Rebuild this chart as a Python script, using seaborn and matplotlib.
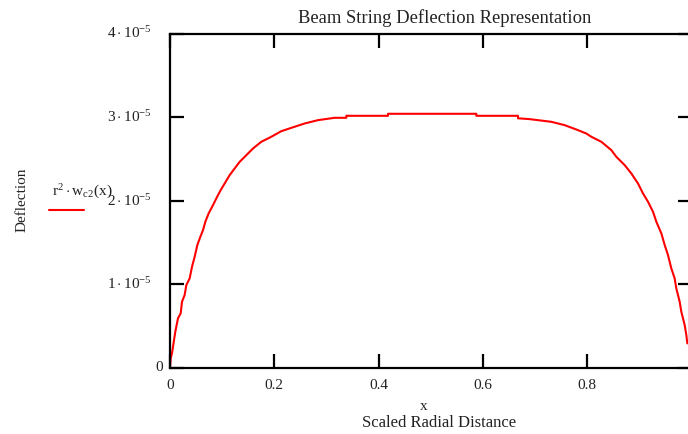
import matplotlib
matplotlib.use("Agg")
import matplotlib.pyplot as plt
from matplotlib.lines import Line2D
import seaborn as sns
import pandas as pd

# Scaled radial distance and the computed deflection r^2 * w_c2(x), in units of 1e-5
x_vals = [0.0000, 0.0013, 0.0038, 0.0077, 0.0102, 0.0153, 0.0205, 0.0230, 0.0281,
          0.0313, 0.0377, 0.0422, 0.0473, 0.0524, 0.0582, 0.0633, 0.0678, 0.0741,
          0.0825, 0.0888, 0.0972, 0.1048, 0.1144, 0.1240, 0.1336, 0.1464, 0.1592,
          0.1751, 0.1943, 0.2135, 0.2327, 0.2582, 0.2838, 0.3158, 0.3381, 0.3381,
          0.4180, 0.4180, 0.5874, 0.5874, 0.6673, 0.6673, 0.6897, 0.7312, 0.7568,
          0.7824, 0.7983, 0.8079, 0.8271, 0.8463, 0.8559, 0.8718, 0.8846, 0.8974,
          0.9070, 0.9166, 0.9262, 0.9326, 0.9422, 0.9486, 0.9549, 0.9613, 0.9677,
          0.9709, 0.9773, 0.9805, 0.9869, 0.9901, 0.9920]
defl_e5 = [0.012, 0.112, 0.172, 0.331, 0.431, 0.591, 0.650, 0.790, 0.870,
           0.989, 1.069, 1.208, 1.328, 1.468, 1.567, 1.647, 1.747, 1.847,
           1.946, 2.026, 2.126, 2.205, 2.305, 2.385, 2.464, 2.544, 2.624,
           2.704, 2.764, 2.831, 2.871, 2.923, 2.963, 2.991, 2.991, 3.015,
           3.015, 3.039, 3.039, 3.015, 3.015, 2.985, 2.975, 2.943, 2.903,
           2.843, 2.803, 2.764, 2.704, 2.604, 2.524, 2.425, 2.325, 2.205,
           2.086, 1.986, 1.866, 1.747, 1.607, 1.468, 1.348, 1.189, 1.069,
           0.949, 0.790, 0.670, 0.511, 0.391, 0.291]
y_ticks_e5 = [0, 1, 2, 3, 4]
x_ticks = [0, 0.2, 0.4, 0.6, 0.8]
x_tick_labels = ["0", "0.2", "0.4", "0.6", "0.8"]

df = pd.DataFrame({"x": x_vals, "w": [v * 1e-5 for v in defl_e5]})

sns.set_theme(style="white")
plt.rcParams["font.family"] = ["Liberation Serif", "DejaVu Serif"]
plt.rcParams["mathtext.fontset"] = "custom"
plt.rcParams["mathtext.rm"] = "Liberation Serif"
plt.rcParams["mathtext.it"] = "Liberation Serif"

TXT = "#222222"
W, H = 688, 434
fig = plt.figure(figsize=(W / 100, H / 100), dpi=100)
ax_left, ax_bottom, ax_w, ax_h = 170, 367.7, 521.5, 334.2
ax = fig.add_axes([ax_left / W, (H - ax_bottom) / H, ax_w / W, ax_h / H])

sns.lineplot(data=df, x="x", y="w", ax=ax, color="#ff0000", linewidth=1.5,
             sort=False, estimator=None)

ax.set_xlim(0, 1)
ax.set_ylim(0, 4e-5)
ax.set_xlabel("")
ax.set_ylabel("")

for s in ax.spines.values():
    s.set_visible(True)
    s.set_color("black")
    s.set_linewidth(1.6)

ax.set_xticks(x_ticks)
ax.set_xticklabels(x_tick_labels, fontsize=11, color=TXT)
ax.set_yticks([v * 1e-5 for v in y_ticks_e5])
ax.set_yticklabels([""] * len(y_ticks_e5))
ax.tick_params(axis="both", which="both", direction="in", length=10, width=1.6,
               color="black", top=True, right=True, bottom=True, left=True)
ax.tick_params(axis="x", pad=8)

# y tick labels in power-of-ten notation
for v in y_ticks_e5:
    if v == 0:
        ax.text(-7 / ax_w, 0, "0", transform=ax.get_yaxis_transform(),
                ha="right", va="center", fontsize=11, color=TXT)
    else:
        ax.text(-18 / ax_w, v * 1e-5, r"$%d\cdot10^{-5}$" % v,
                transform=ax.get_yaxis_transform(),
                ha="right", va="center", fontsize=11, color=TXT)

fig.text(445 / W, 1 - 18 / H, "Beam String Deflection Representation",
         ha="center", va="center", fontsize=13.4, color=TXT)
fig.text(424 / W, 1 - 407 / H, "x", ha="center", va="center", fontsize=11, color=TXT)
fig.text(362 / W, 1 - 423 / H, "Scaled Radial Distance", ha="left", va="center",
         fontsize=12, color=TXT)
fig.text(22 / W, 1 - 200 / H, "Deflection", rotation=90, ha="center", va="center",
         fontsize=11, color=TXT)

# legend entry to the left of the plot
fig.text(52 / W, 1 - 192 / H, r"$\mathrm{r}^{2}\cdot\mathrm{w}_{\mathrm{c2}}(\mathrm{x})$",
         ha="left", va="center", fontsize=11, color=TXT)
fig.add_artist(Line2D([49 / W, 84 / W], [1 - 209.5 / H, 1 - 209.5 / H],
                      color="#ff0000", linewidth=1.5, transform=fig.transFigure))

fig.savefig("out.png", dpi=100)
